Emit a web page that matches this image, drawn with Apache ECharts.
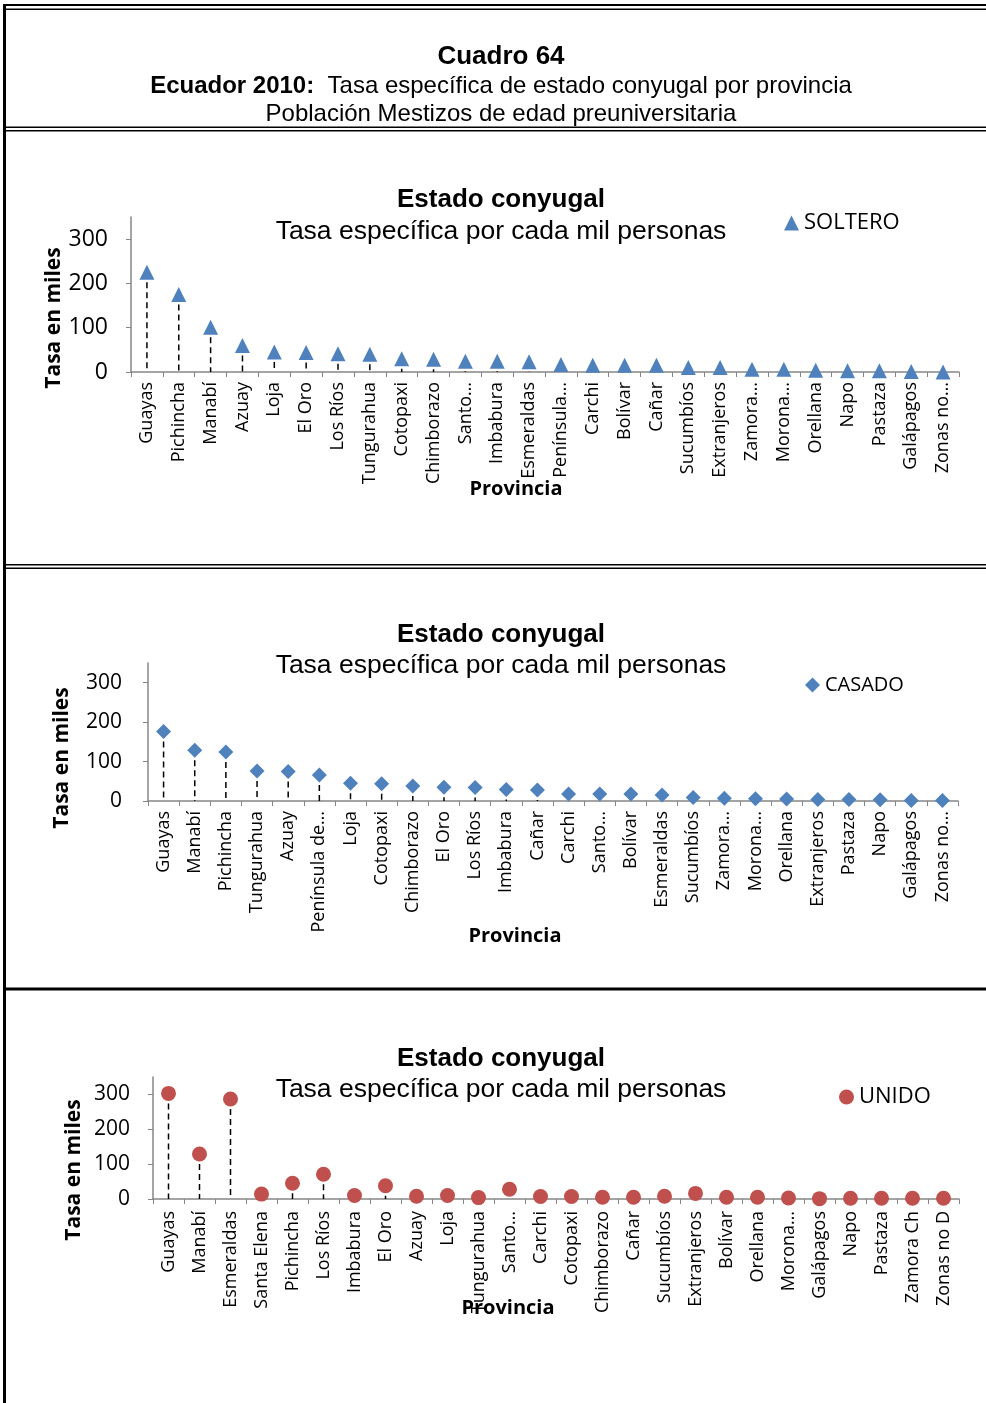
<!DOCTYPE html>
<html>
<head>
<meta charset="utf-8">
<script src="https://cdn.jsdelivr.net/npm/echarts@6/dist/echarts.min.js"></script>
<style>
  html, body { margin: 0; padding: 0; background: #fff; }
  #chart { width: 986px; height: 1403px; }
</style>
</head>
<body>
<div id="chart"></div>
<script>
// --- data ---
var yTicks = [0, 100, 200, 300];

var solteroCats = ['Guayas', 'Pichincha', 'Manabí', 'Azuay', 'Loja', 'El Oro', 'Los Ríos', 'Tungurahua', 'Cotopaxi', 'Chimborazo', 'Santo…', 'Imbabura', 'Esmeraldas', 'Península…', 'Carchi', 'Bolívar', 'Cañar', 'Sucumbíos', 'Extranjeros', 'Zamora…', 'Morona…', 'Orellana', 'Napo', 'Pastaza', 'Galápagos', 'Zonas no…'];
var solteroVals = [225, 175, 101, 60, 45, 44, 41, 40, 30, 29, 24, 24, 23, 17, 15, 15, 15, 10, 10, 6, 6, 4, 3, 3, 1, 0];

var casadoCats = ['Guayas', 'Manabí', 'Pichincha', 'Tungurahua', 'Azuay', 'Península de…', 'Loja', 'Cotopaxi', 'Chimborazo', 'El Oro', 'Los Ríos', 'Imbabura', 'Cañar', 'Carchi', 'Santo…', 'Bolívar', 'Esmeraldas', 'Sucumbíos', 'Zamora…', 'Morona…', 'Orellana', 'Extranjeros', 'Pastaza', 'Napo', 'Galápagos', 'Zonas no…'];
var casadoVals = [176, 129, 124, 76, 75, 66, 45, 44, 38, 35, 34, 29, 28, 18, 18, 18, 15, 9, 7, 6, 5, 4, 4, 3, 1, 1];

var unidoCats = ['Guayas', 'Manabí', 'Esmeraldas', 'Santa Elena', 'Pichincha', 'Los Ríos', 'Imbabura', 'El Oro', 'Azuay', 'Loja', 'Tungurahua', 'Santo…', 'Carchi', 'Cotopaxi', 'Chimborazo', 'Cañar', 'Sucumbíos', 'Extranjeros', 'Bolívar', 'Orellana', 'Morona…', 'Galápagos', 'Napo', 'Pastaza', 'Zamora Ch', 'Zonas no D'];
var unidoVals = [303, 129, 287, 14, 45, 71, 10, 38, 8, 10, 4, 28, 7, 7, 5, 5, 8, 16, 5, 5, 3, 1, 2, 2, 2, 2];

(function() {
  var blue = '#4f81bd';
  var red = '#c0504d';
  var axisGrey = '#868686';
  var labelFont = 'Open Sans';
  var titleFont = 'Liberation Sans';

  var panels = [
    { name: 'SOLTERO', cats: solteroCats, vals: solteroVals, color: blue, symbol: 'triangle',
      grid: { left: 131, top: 217, width: 828, height: 155 }, yLabelSize: 23, yMargin: 23, xMargin: 10,
      legend: { left: 784, top: 211, size: 22 }, titleY: 200, subY: 232, yName: [54, 318], xName: [516, 489] },
    { name: 'CASADO', cats: casadoCats, vals: casadoVals, color: blue, symbol: 'diamond',
      grid: { left: 148, top: 663, width: 810, height: 138 }, yLabelSize: 21, yMargin: 26, xMargin: 10,
      legend: { left: 805, top: 673, size: 20 }, titleY: 635, subY: 666, yName: [62, 758], xName: [515, 936] },
    { name: 'UNIDO', cats: unidoCats, vals: unidoVals, color: red, symbol: 'circle',
      grid: { left: 153, top: 1077, width: 806, height: 122 }, yLabelSize: 21, yMargin: 23, xMargin: 12,
      legend: { left: 839, top: 1085, size: 22 }, titleY: 1059, subY: 1090, yName: [74, 1170], xName: [508, 1308] }
  ];

  var titles = [
    { text: 'Cuadro 64', left: 501, top: 42,
      textStyle: { fontFamily: titleFont, fontSize: 26, fontWeight: 'bold', color: '#000', lineHeight: 30 } },
    { text: '{b|Ecuador 2010:}  Tasa específica de estado conyugal por provincia', left: 501, top: 72,
      textStyle: { fontFamily: titleFont, fontSize: 24, fontWeight: 'normal', color: '#000', lineHeight: 28,
        rich: { b: { fontFamily: titleFont, fontSize: 24, fontWeight: 'bold', color: '#000' } } } },
    { text: 'Población Mestizos de edad preuniversitaria', left: 501, top: 100,
      textStyle: { fontFamily: titleFont, fontSize: 24, fontWeight: 'normal', color: '#000', lineHeight: 28 } }
  ];

  var grids = [], xAxes = [], yAxes = [], series = [], legends = [];
  var graphics = [
    // frame lines
    { type: 'rect', shape: { x: 3, y: 4, width: 983, height: 2 }, style: { fill: '#000' } },
    { type: 'rect', shape: { x: 3, y: 8.5, width: 983, height: 1.5 }, style: { fill: '#000' } },
    { type: 'rect', shape: { x: 3, y: 4, width: 3, height: 1399 }, style: { fill: '#000' } },
    { type: 'rect', shape: { x: 3, y: 126.5, width: 983, height: 1.5 }, style: { fill: '#000' } },
    { type: 'rect', shape: { x: 3, y: 130, width: 983, height: 1.5 }, style: { fill: '#000' } },
    { type: 'rect', shape: { x: 3, y: 564, width: 983, height: 1.5 }, style: { fill: '#000' } },
    { type: 'rect', shape: { x: 3, y: 567.5, width: 983, height: 1.5 }, style: { fill: '#000' } },
    { type: 'rect', shape: { x: 3, y: 987.5, width: 983, height: 3 }, style: { fill: '#000' } }
  ];

  panels.forEach(function(p, i) {
    titles.push({ text: 'Estado conyugal', left: 501, top: p.titleY - 15,
      textStyle: { fontFamily: titleFont, fontSize: 26, fontWeight: 'bold', color: '#000', lineHeight: 30 } });
    titles.push({ text: 'Tasa específica por cada mil personas', left: 501, top: p.subY - 15,
      textStyle: { fontFamily: titleFont, fontSize: 26.5, fontWeight: 'normal', color: '#000', lineHeight: 30 } });

    grids.push({ left: p.grid.left, top: p.grid.top, width: p.grid.width, height: p.grid.height, outerBoundsMode: 'none' });

    xAxes.push({
      gridIndex: i, type: 'category', data: p.cats,
      axisLine: { lineStyle: { color: axisGrey, width: 1.5 } },
      axisTick: { show: true, length: 5, lineStyle: { color: axisGrey, width: 1 } },
      axisLabel: { interval: 0, rotate: 90, margin: p.xMargin, color: '#000', fontFamily: labelFont, fontSize: 18 },
      splitLine: { show: false }
    });
    yAxes.push({
      gridIndex: i, type: 'value', min: 0, max: 350, interval: 100,
      axisLine: { show: true, lineStyle: { color: axisGrey, width: 1.5 } },
      axisTick: { show: true, length: 5, customValues: yTicks, lineStyle: { color: axisGrey, width: 1 } },
      axisLabel: { customValues: yTicks, margin: p.yMargin, color: '#000', fontFamily: labelFont, fontSize: p.yLabelSize },
      splitLine: { show: false }
    });

    var pts = p.vals.map(function(v, k) { return [k, v]; });

    // dashed drop lines from each point to the axis
    series.push({
      type: 'custom', xAxisIndex: i, yAxisIndex: i, z: 1, silent: true,
      data: pts,
      encode: { x: 0, y: 1 },
      renderItem: function(params, api) {
        var top = api.coord([api.value(0), api.value(1)]);
        var base = api.coord([api.value(0), 0]);
        return { type: 'line', shape: { x1: top[0], y1: top[1], x2: base[0], y2: base[1] },
          style: { stroke: '#000', lineWidth: 1.5, lineDash: [6, 4] } };
      }
    });
    series.push({
      name: p.name, type: 'scatter', xAxisIndex: i, yAxisIndex: i, z: 3,
      symbol: p.symbol, symbolSize: 15,
      itemStyle: { color: p.color, opacity: 1 },
      data: pts
    });

    legends.push({
      data: [p.name], left: p.legend.left, top: p.legend.top, padding: 0,
      itemWidth: 15, itemHeight: 15, icon: p.symbol,
      textStyle: { fontFamily: labelFont, fontSize: p.legend.size, color: '#000', lineHeight: 24 }
    });

    graphics.push({ type: 'text', x: p.yName[0], y: p.yName[1], rotation: Math.PI / 2,
      style: { text: 'Tasa en miles', align: 'center', verticalAlign: 'middle', fill: '#000', font: 'bold 21px "Open Sans"' } });
    graphics.push({ type: 'text', x: p.xName[0], y: p.xName[1],
      style: { text: 'Provincia', align: 'center', verticalAlign: 'middle', fill: '#000', font: 'bold 20px "Open Sans"' } });
  });

  titles.forEach(function(t) { t.textAlign = 'center'; t.padding = 0; });

  var chart = echarts.init(document.getElementById('chart'), null, { renderer: 'canvas' });
  chart.setOption({
    backgroundColor: '#fff',
    animation: false,
    title: titles,
    legend: legends,
    grid: grids,
    xAxis: xAxes,
    yAxis: yAxes,
    series: series,
    graphic: graphics
  });
})();
</script>
</body>
</html>
